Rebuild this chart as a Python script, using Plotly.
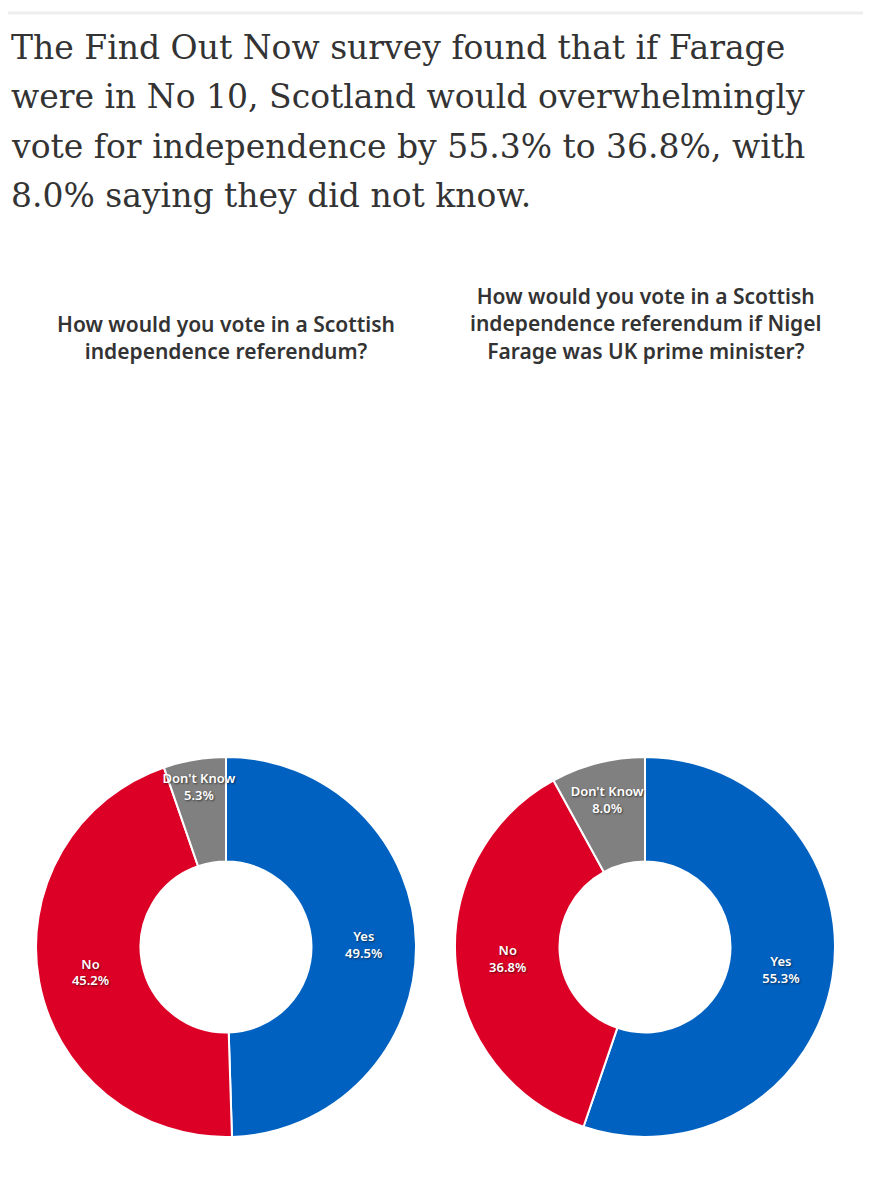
import plotly.graph_objects as go

# =============================================================================
# Data
# =============================================================================
labels = ["Yes", "No", "Don't Know"]
now_values = [49.5, 45.2, 5.3]
farage_values = [55.3, 36.8, 8.0]
slice_colors = ["#0061C0", "#DC0026", "#808080"]

headline_lines = ["The Find Out Now survey found that if Farage",
                  "were in No 10, Scotland would overwhelmingly",
                  "vote for independence by 55.3% to 36.8%, with",
                  "8.0% saying they did not know."]
title_left = "How would you vote in a Scottish<br>independence referendum?"
title_right = ("How would you vote in a Scottish<br>independence referendum if Nigel<br>"
               "Farage was UK prime minister?")

# page is 871x1200, the html body keeps an 8px margin
OFF = 8
W, H = 871 - 2 * OFF, 1200 - 2 * OFF


def px_x(p):
    return (p - OFF) / W


def px_y(p):
    return 1 - (p - OFF) / H


def donut(values, x0, x1):
    return go.Pie(
        labels=labels, values=values, sort=False, direction="clockwise",
        rotation=0, hole=0.45,
        marker=dict(colors=slice_colors, line=dict(color="white", width=2)),
        texttemplate="%{label}<br>%{value:.1f}%",
        textposition="inside", insidetextorientation="horizontal",
        textfont=dict(family="Noto Sans", size=13, color="white", weight=600,
                      shadow="1px 1px 2px rgba(0,0,0,0.55)"),
        hoverinfo="label+value",
        domain=dict(x=[px_x(x0), px_x(x1)], y=[px_y(1137), px_y(757)]),
        showlegend=False,
    )


fig = go.Figure()
fig.add_trace(donut(now_values, 36, 416))
fig.add_trace(donut(farage_values, 455, 835))

fig.add_shape(type="line", xref="paper", yref="paper", x0=0, x1=1,
              y0=px_y(13), y1=px_y(13), line=dict(color="#eeeeee", width=3))

# headline, one annotation per line to hold the line spacing
for i, line in enumerate(headline_lines):
    fig.add_annotation(text=line, xref="paper", yref="paper",
                       x=px_x(9), y=px_y(48 + 49 * i), xanchor="left", yanchor="middle",
                       align="left", showarrow=False,
                       font=dict(family="DejaVu Serif", size=33, color="#333333"))

for txt, cx in [(title_left, 226), (title_right, 645)]:
    fig.add_annotation(text=txt, xref="paper", yref="paper",
                       x=px_x(cx), y=px_y(367), xanchor="center", yanchor="bottom",
                       align="center", showarrow=False,
                       font=dict(family="Noto Sans", size=21, color="#333333", weight=600))

fig.update_layout(width=W, height=H, margin=dict(l=0, r=0, t=0, b=0),
                  paper_bgcolor="white", plot_bgcolor="white",
                  uniformtext=dict(minsize=13, mode="show"))

fig.write_html("out.html")
